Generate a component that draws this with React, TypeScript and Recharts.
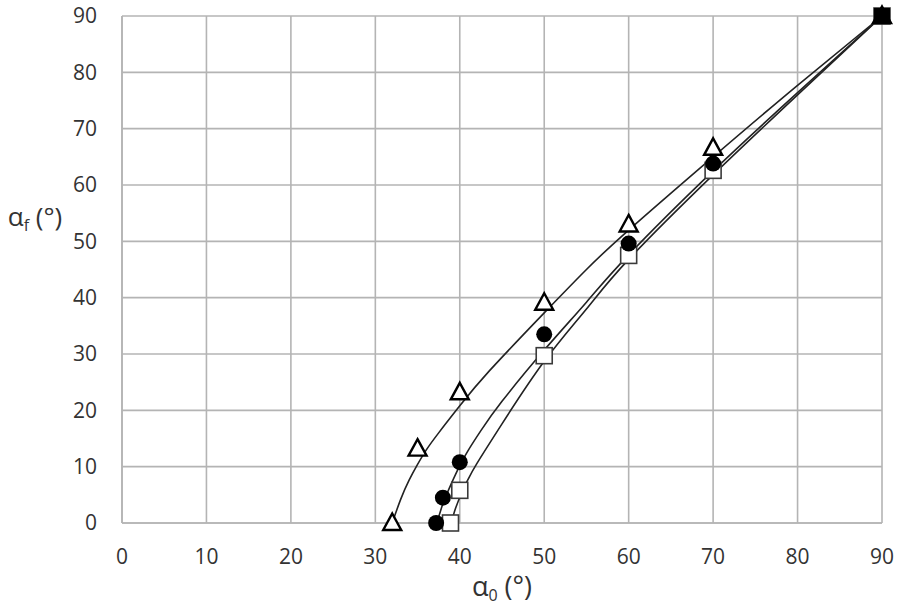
import { ComposedChart, Line, Scatter, XAxis, YAxis, CartesianGrid, Label } from 'recharts';

// measured points
const triangles = [
  { x: 32, y: 0 }, { x: 35, y: 13.2 }, { x: 40, y: 23.2 }, { x: 50, y: 39.1 },
  { x: 60, y: 53 }, { x: 70, y: 66.6 }, { x: 90, y: 90 },
];
const circles = [
  { x: 37.2, y: 0 }, { x: 38, y: 4.5 }, { x: 40, y: 10.8 }, { x: 50, y: 33.5 },
  { x: 60, y: 49.6 }, { x: 70, y: 63.8 }, { x: 90, y: 90 },
];
const squares = [
  { x: 38.9, y: 0 }, { x: 40, y: 5.8 }, { x: 50, y: 29.7 }, { x: 60, y: 47.5 },
  { x: 70, y: 62.6 }, { x: 90, y: 90 },
];
const endPoint = [{ x: 90, y: 90 }];

// trend curves
const triangleFit = [
  { x: 32, y: 0 }, { x: 33, y: 4.2 }, { x: 34, y: 7.6 }, { x: 35, y: 10.4 },
  { x: 36, y: 12.9 }, { x: 37.5, y: 16 }, { x: 40, y: 20.8 }, { x: 43.5, y: 27 },
  { x: 50, y: 37.3 }, { x: 55, y: 45 }, { x: 60, y: 52 }, { x: 70, y: 65 },
  { x: 80, y: 77.7 }, { x: 90, y: 90 },
];
const circleFit = [
  { x: 37.3, y: 0 }, { x: 38, y: 3.4 }, { x: 39, y: 7 }, { x: 40, y: 10.2 },
  { x: 41, y: 12.9 }, { x: 42.5, y: 16.4 }, { x: 45, y: 21.6 }, { x: 50, y: 30.7 },
  { x: 55, y: 39.2 }, { x: 60, y: 47.6 }, { x: 70, y: 62.5 }, { x: 80, y: 76.4 },
  { x: 90, y: 90 },
];
const squareFit = [
  { x: 39, y: 0 }, { x: 39.5, y: 2.6 }, { x: 40.3, y: 5.6 }, { x: 41, y: 7.8 },
  { x: 42, y: 10.5 }, { x: 45, y: 17.6 }, { x: 50, y: 28.7 }, { x: 55, y: 38 },
  { x: 60, y: 46.8 }, { x: 70, y: 61.8 }, { x: 80, y: 76 }, { x: 90, y: 90 },
];

const ticks = [0, 10, 20, 30, 40, 50, 60, 70, 80, 90];

const FONT = '"Open Sans", "Liberation Sans", sans-serif';
const GRID = '#b4b4b4';

const Triangle = (props: any) => {
  const { cx, cy } = props;
  return (
    <path
      d={`M${cx},${cy - 9.5} L${cx + 9},${cy + 7} L${cx - 9},${cy + 7} Z`}
      fill="#fff"
      stroke="#000"
      strokeWidth={2.4}
    />
  );
};

const Dot = (props: any) => <circle cx={props.cx} cy={props.cy} r={8} fill="#000" />;

const Square = (props: any) => (
  <rect x={props.cx - 8} y={props.cy - 8} width={16} height={16} fill="#fff" stroke="#3a3a3a" strokeWidth={1.6} />
);

const FilledSquare = (props: any) => (
  <rect x={props.cx - 8} y={props.cy - 8} width={16} height={16} fill="#000" />
);

const XTitle = (props: any) => {
  const { x, y, width } = props.viewBox;
  return (
    <text x={x + width / 2} y={y + 73} textAnchor="middle" fontFamily={FONT} fontSize={27} fill="#333">
      α<tspan fontSize={16} dy={5}>0</tspan>
      <tspan dy={-5}> (°)</tspan>
    </text>
  );
};

const YTitle = (props: any) => {
  const { y } = props.viewBox;
  return (
    <text x={35} y={y + 210} textAnchor="middle" fontFamily={FONT} fontSize={26} fill="#333">
      α<tspan fontSize={16} dy={5}>f</tspan>
      <tspan dy={-5}> (°)</tspan>
    </text>
  );
};

const tickStyle = { fontFamily: FONT, fontSize: 21, fill: '#333' };

export default function App() {
  return (
    <div style={{ position: 'absolute', left: 0, top: 0, width: 900, height: 610, background: '#fff' }}>
      <ComposedChart width={900} height={610} margin={{ top: 16, right: 18, bottom: 52, left: 0 }}>
        <CartesianGrid stroke={GRID} strokeWidth={1.6} />
        <XAxis
          type="number"
          dataKey="x"
          domain={[0, 90]}
          ticks={ticks}
          height={35}
          tickSize={0}
          tickMargin={26}
          tickLine={false}
          axisLine={{ stroke: GRID, strokeWidth: 1.6 }}
          tick={tickStyle}
        >
          <Label content={<XTitle />} />
        </XAxis>
        <YAxis
          type="number"
          dataKey="y"
          domain={[0, 90]}
          ticks={ticks}
          width={122}
          tickSize={0}
          tickMargin={25}
          tickLine={false}
          axisLine={{ stroke: GRID, strokeWidth: 1.6 }}
          tick={tickStyle}
        >
          <Label content={<YTitle />} />
        </YAxis>
        <Line data={triangleFit} dataKey="y" type="natural" stroke="#222" strokeWidth={1.6} dot={false} isAnimationActive={false} />
        <Line data={circleFit} dataKey="y" type="natural" stroke="#222" strokeWidth={1.6} dot={false} isAnimationActive={false} />
        <Line data={squareFit} dataKey="y" type="natural" stroke="#222" strokeWidth={1.6} dot={false} isAnimationActive={false} />
        <Scatter data={squares} dataKey="y" shape={<Square />} isAnimationActive={false} />
        <Scatter data={triangles} dataKey="y" shape={<Triangle />} isAnimationActive={false} />
        <Scatter data={circles} dataKey="y" shape={<Dot />} isAnimationActive={false} />
        <Scatter data={endPoint} dataKey="y" shape={<FilledSquare />} isAnimationActive={false} />
      </ComposedChart>
    </div>
  );
}
